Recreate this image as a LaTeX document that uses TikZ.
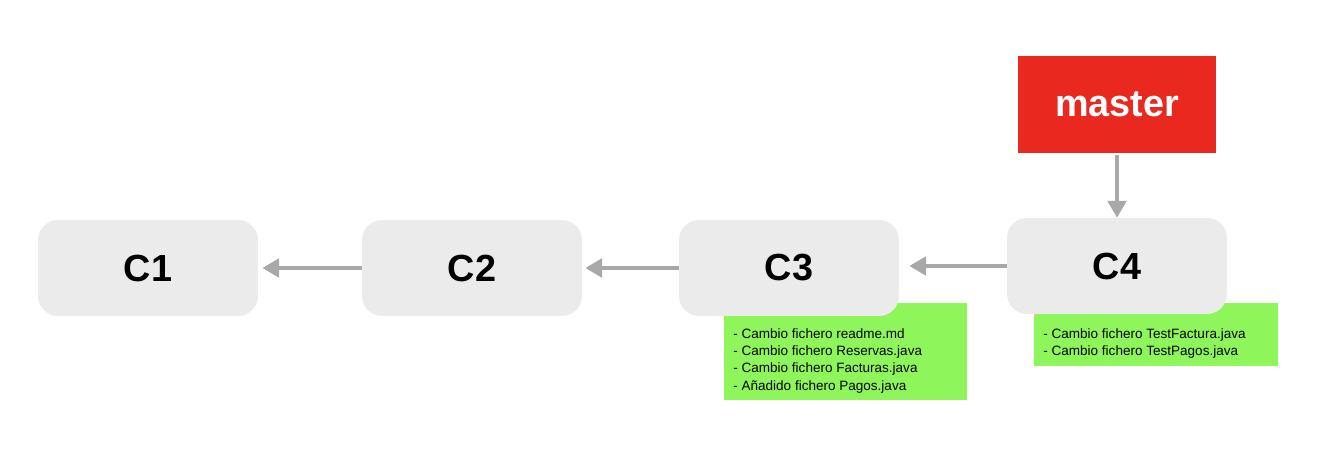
\documentclass[tikz,border=0pt]{standalone}
\usepackage{fontspec}
\setmainfont{Liberation Sans}
\usetikzlibrary{arrows.meta}
\definecolor{commitgray}{RGB}{235,235,235}
\definecolor{branchred}{RGB}{233,40,32}
\definecolor{notegreen}{RGB}{142,246,90}
\definecolor{linkgray}{RGB}{168,168,168}

\begin{document}
\begin{tikzpicture}[x=0.02cm,y=-0.02cm,
		commit/.style={fill=commitgray, rounded corners=0.4cm, minimum width=4.4cm, minimum height=1.92cm, font=\fontsize{21.5}{26}\selectfont\bfseries},
		branch/.style={fill=branchred, text=white, minimum width=3.98cm, minimum height=1.94cm, font=\fontsize{21.5}{26}\selectfont\bfseries},
		notebox/.style={fill=notegreen, inner sep=0pt},
		notetext/.style={align=left, inner sep=0pt, anchor=north west, font=\fontsize{7.7}{9.9}\selectfont},
		link/.style={draw=linkgray, line width=2pt, -{Triangle[width=10.5pt,length=9.5pt]}}]
	\useasboundingbox (0,0) rectangle (1322,460);
		%Notes
			%C3 changes
				\node[notebox, minimum width=4.86cm, minimum height=1.94cm] (n3) at (845.5,351.5) {};
				\node[notetext] (t3) at (733,328) {- Cambio fichero readme.md\\- Cambio fichero Reservas.java\\- Cambio fichero Facturas.java\\- Añadido fichero Pagos.java};
			%C4 changes
				\node[notebox, minimum width=4.88cm, minimum height=1.26cm] (n4) at (1156,334.5) {};
				\node[notetext] (t4) at (1043,328) {- Cambio fichero TestFactura.java\\- Cambio fichero TestPagos.java};
		%Commits
			\node[commit] (c1) at (148,268) {C1};
			\node[commit] (c2) at (472,268) {C2};
			\node[commit] (c3) at (789,268) {C3};
			\node[commit] (c4) at (1117,266) {C4};
		%Branch
			\node[branch] (master) at (1117,104.5) {master};
		%Parent links
			\draw[link, shorten >=0.2cm] (c4.west) -- (c4.west -| c3.east);
			\draw[link, shorten >=0.06cm] (c3.west) -- (c2.east);
			\draw[link, shorten >=0.08cm] (c2.west) -- (c1.east);
			\draw[link, shorten <=0.04cm] (master.south) -- (master.south |- c4.north);
\end{tikzpicture}
\end{document}
